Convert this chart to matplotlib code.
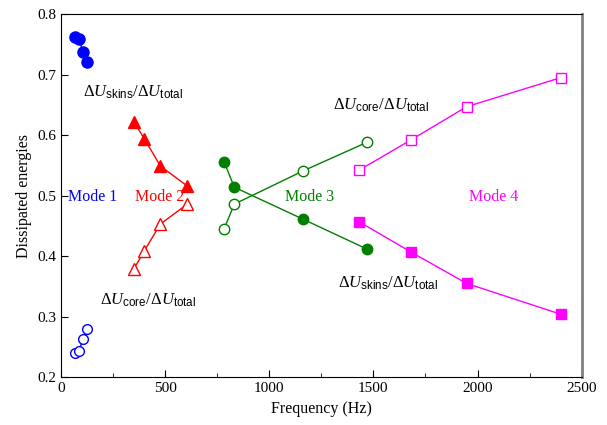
import matplotlib.pyplot as plt
from matplotlib.ticker import MultipleLocator

plt.rcParams['font.family'] = 'Liberation Serif'
plt.rcParams['mathtext.fontset'] = 'custom'
plt.rcParams['mathtext.rm'] = 'Liberation Serif'
plt.rcParams['mathtext.it'] = 'Liberation Serif:italic'
plt.rcParams['mathtext.sf'] = 'Liberation Sans'

# frequency (Hz) and dissipated energy ratios for each mode
f1 = [65, 88, 105, 126]
skins1 = [0.762, 0.758, 0.737, 0.721]
core1 = [0.240, 0.244, 0.264, 0.279]

f2 = [350, 400, 477, 606]
skins2 = [0.622, 0.594, 0.549, 0.516]
core2 = [0.379, 0.409, 0.453, 0.486]

f3 = [783, 832, 1163, 1468]
skins3 = [0.556, 0.514, 0.461, 0.412]
core3 = [0.445, 0.486, 0.541, 0.588]

f4 = [1431, 1680, 1948, 2401]
skins4 = [0.457, 0.407, 0.355, 0.304]
core4 = [0.542, 0.592, 0.647, 0.695]

blue, red, green, mag = '#0000ff', '#ff0000', '#007f00', '#ff00ff'

fig = plt.figure(figsize=(6.07, 4.25), dpi=100)
ax = fig.add_axes([0.1005, 0.1122, 0.8578, 0.8548])

lw = 1.0
ax.plot(f1, skins1, '-o', color=blue, lw=lw, ms=8)
ax.plot(f1, core1, '-o', color=blue, lw=lw, ms=7, mfc='white', mew=1.0)
ax.plot(f2, skins2, '-^', color=red, lw=lw, ms=8)
ax.plot(f2, core2, '-^', color=red, lw=lw, ms=8, mfc='white', mew=1.0)
ax.plot(f3, skins3, '-o', color=green, lw=lw, ms=7.5)
ax.plot(f3, core3, '-o', color=green, lw=lw, ms=7.5, mfc='white', mew=1.0)
ax.plot(f4, skins4, '-s', color=mag, lw=lw, ms=6.5)
ax.plot(f4, core4, '-s', color=mag, lw=lw, ms=6.5, mfc='white', mew=1.0)

skins_lbl = r'$\Delta\mathit{U}_{\mathsf{skins}}/\Delta\mathit{U}_{\mathsf{total}}$'
core_lbl = r'$\Delta\mathit{U}_{\mathsf{core}}/\Delta\mathit{U}_{\mathsf{total}}$'
ax.text(346, 0.670, skins_lbl, ha='center', va='center', fontsize=12)
ax.text(1539, 0.650, core_lbl, ha='center', va='center', fontsize=12)
ax.text(420, 0.328, core_lbl, ha='center', va='center', fontsize=12)
ax.text(1570, 0.356, skins_lbl, ha='center', va='center', fontsize=12)

ax.text(150, 0.497, 'Mode 1', color=blue, ha='center', va='center', fontsize=11.5)
ax.text(475, 0.497, 'Mode 2', color=red, ha='center', va='center', fontsize=11.5)
ax.text(1195, 0.497, 'Mode 3', color=green, ha='center', va='center', fontsize=11.5)
ax.text(2075, 0.497, 'Mode 4', color=mag, ha='center', va='center', fontsize=11.5)

ax.set_xlim(0, 2500)
ax.set_ylim(0.2, 0.8)
ax.xaxis.set_major_locator(MultipleLocator(500))
ax.xaxis.set_minor_locator(MultipleLocator(250))
ax.yaxis.set_major_locator(MultipleLocator(0.1))
ax.tick_params(which='both', direction='in', labelsize=11, top=False, right=False)
ax.tick_params(which='major', length=5)
ax.tick_params(which='minor', length=3)
ax.set_xlabel('Frequency (Hz)', fontsize=11.5)
ax.set_ylabel('Dissipated energies', fontsize=11.5)
ax.spines['right'].set_color('#808080')
ax.spines['right'].set_linewidth(2)

fig.savefig('out.png', dpi=100)
